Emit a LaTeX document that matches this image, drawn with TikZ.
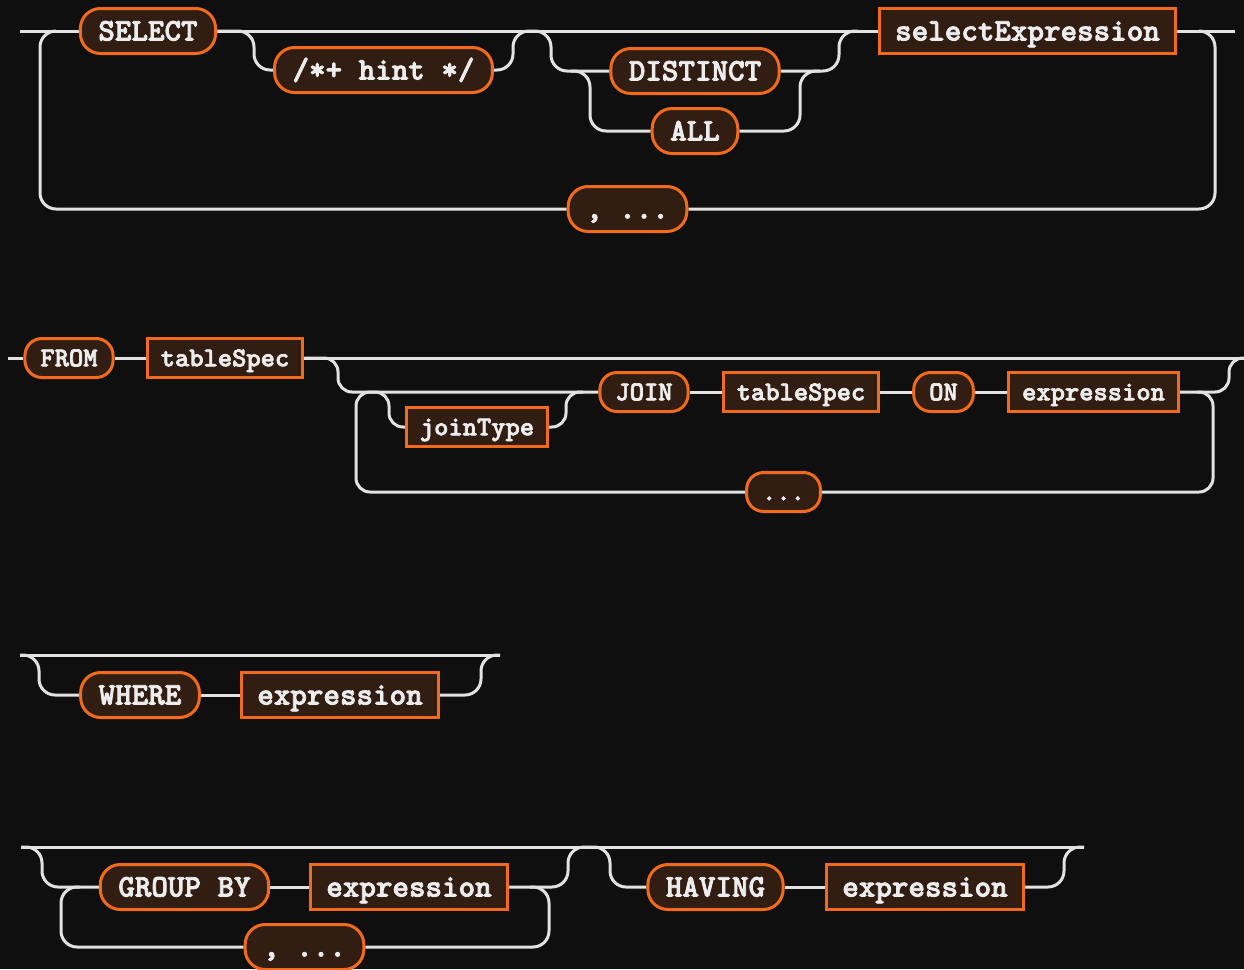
\documentclass[tikz,border=0pt]{standalone}
\usepackage{fontspec}
\usetikzlibrary{backgrounds}

\newfontfamily\railtt[FakeBold=2.5]{lmmonolt10-bold.otf}
\definecolor{bgcol}{HTML}{0F0F0F}
\definecolor{railcol}{HTML}{E2E2E2}
\definecolor{boxfill}{HTML}{321D13}
\definecolor{boxline}{HTML}{F26A1B}
\definecolor{txtcol}{HTML}{EDEDED}

\begin{document}
\begin{tikzpicture}[x=1pt, y=-1pt,
		rail/.style={draw=railcol, line width=3pt, rounded corners=16pt},
		railb/.style={rail, rounded corners=14pt},
		box/.style={draw=boxline, fill=boxfill, line width=3pt, text=txtcol, inner ysep=0pt,
			font=\railtt\fontsize{31.5}{32}\selectfont, text height=25pt, text depth=6pt, minimum height=45pt},
		boxb/.style={box, font=\railtt\fontsize{27.2}{28}\selectfont, text height=21.5pt, text depth=5pt, minimum height=39pt},
		kw/.style={box, rounded corners=20pt, inner xsep=18pt},
		ref/.style={box, inner xsep=16pt},
		kwb/.style={boxb, rounded corners=17pt, inner xsep=15.5pt},
		refb/.style={boxb, inner xsep=13.5pt}]
		\useasboundingbox (0,0) rectangle (1244,969);

		% SELECT
		\node[kw] (select) at (148,31) {SELECT};
		\node[kw] (hint) at (383.5,70) {/*+ hint */};
		\node[kw] (distinct) at (695,71) {DISTINCT};
		\node[kw] (all) at (695,131) {ALL};
		\node[ref] (selexpr) at (1027.5,31) {selectExpression};
		\node[kw] (comma1) at (627.5,209) {, ...};
		\coordinate (s0) at (20,31);
		\coordinate (s9) at (1235,31);

		% FROM
		\node[kwb] (from) at (69,358) {FROM};
		\node[refb] (tspec1) at (225,358) {tableSpec};
		\node[refb] (jtype) at (477,427) {joinType};
		\node[kwb] (join) at (644,392) {JOIN};
		\node[refb] (tspec2) at (801,392) {tableSpec};
		\node[kwb] (on) at (943.5,392) {ON};
		\node[refb] (expr1) at (1093.5,392) {expression};
		\node[kwb] (dots) at (783.5,492) {...};
		\coordinate (f0) at (8,358);
		\coordinate (f9) at (1244,358);

		% WHERE
		\node[kw] (where) at (140,695) {WHERE};
		\node[ref] (expr2) at (340,695) {expression};
		\coordinate (w0) at (20,655);
		\coordinate (w9) at (500,655);

		% GROUP BY, HAVING
		\node[kw] (group) at (184.5,887) {GROUP BY};
		\node[ref] (expr3) at (409,887) {expression};
		\node[kw] (comma2) at (304.5,947) {, ...};
		\node[kw] (having) at (715.5,887) {HAVING};
		\node[ref] (expr4) at (925,887) {expression};
		\coordinate (g0) at (21,847);
		\coordinate (g5) at (589,847);
		\coordinate (g9) at (1084,847);

		\begin{scope}[on background layer]
			\fill[bgcol] (0,0) rectangle (1244,969);

			\draw[rail] (s0) -- (select.west);
			\draw[rail] (select.east) -- (selexpr.west);
			\draw[rail] (selexpr.east) -- (s9);
			\draw[rail] (select.east) -| (254,70) -- (hint.west);
			\draw[rail] (hint.east) -| (513,31) -- (533,31);
			\draw[rail] (533,31) -| (551,71) -- (distinct.west);
			\draw[rail] (571,71) -| (590,131) -- (all.west);
			\draw[rail] (all.east) -| (800,71) -- (820,71);
			\draw[rail] (distinct.east) -| (839,31) -- (858,31);
			\draw[rail] (56,31) -| (40,209) -- (comma1.west);
			\draw[rail] (comma1.east) -| (1215,31) -- (1199,31);

			\draw[railb] (f0) -- (from.west);
			\draw[railb] (tspec1.east) -- (f9);
			\draw[railb] (tspec1.east) -| (338,392) -- (join.west);
			\draw[railb] (372,392) -| (389,427) -- (jtype.west);
			\draw[railb] (jtype.east) -| (566,392) -- (583,392);
			\draw[railb] (expr1.east) -| (1229,358) -- (f9);
			\draw[railb] (372,392) -| (356,492) -- (dots.west);
			\draw[railb] (dots.east) -| (1213,392) -- (1197,392);
			\foreach \a/\b in {from/tspec1, join/tspec2, tspec2/on, on/expr1}
				\draw[railb] (\a) -- (\b);

			\draw[rail] (w0) -- (w9);
			\draw[rail] (w0) -| (39,695) -- (where.west);
			\draw[rail] (expr2.east) -| (481,655) -- (w9);

			\draw[rail] (g0) -- (g9);
			\draw[rail] (g0) -| (42,887) -- (group.west);
			\draw[rail] (expr3.east) -| (568,847) -- (g5);
			\draw[rail] (80,887) -| (61,947) -- (comma2.west);
			\draw[rail] (comma2.east) -| (549,887) -- (530,887);
			\draw[rail] (g5) -| (610,887) -- (having.west);
			\draw[rail] (expr4.east) -| (1064,847) -- (g9);
			\foreach \a/\b in {where/expr2, group/expr3, having/expr4}
				\draw[rail] (\a) -- (\b);
		\end{scope}
	\end{tikzpicture}
\end{document}
